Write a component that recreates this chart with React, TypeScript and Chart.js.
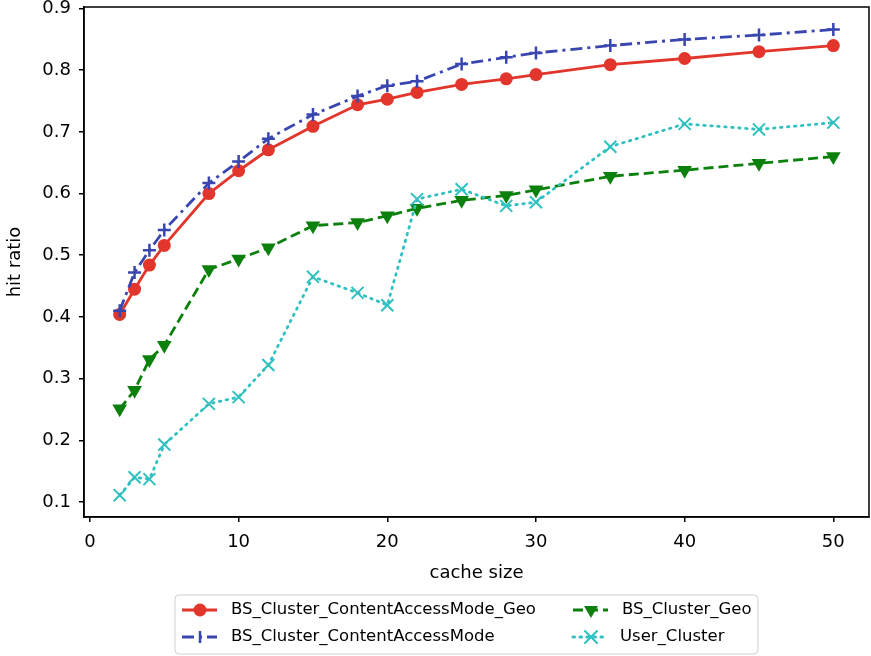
import React, { useEffect, useRef } from "react";
import { Chart, registerables } from "chart.js";
Chart.register(...registerables);

const cacheSizes = [2, 3, 4, 5, 8, 10, 12, 15, 18, 20, 22, 25, 28, 30, 35, 40, 45, 50];
const bsContentGeo = [0.404, 0.445, 0.484, 0.516, 0.6, 0.637, 0.671, 0.709, 0.744, 0.753, 0.764, 0.777, 0.786, 0.793, 0.809, 0.819, 0.830, 0.840];
const bsContent = [0.41, 0.472, 0.508, 0.541, 0.617, 0.652, 0.689, 0.728, 0.758, 0.775, 0.782, 0.810, 0.821, 0.828, 0.840, 0.850, 0.857, 0.866];
const bsGeo = [0.251, 0.281, 0.331, 0.354, 0.477, 0.494, 0.512, 0.548, 0.553, 0.564, 0.576, 0.589, 0.597, 0.606, 0.628, 0.638, 0.649, 0.660];
const userCluster = [0.111, 0.140, 0.137, 0.193, 0.259, 0.270, 0.322, 0.465, 0.439, 0.419, 0.591, 0.607, 0.580, 0.586, 0.676, 0.713, 0.704, 0.715];

const seriesNames = ["BS_Cluster_ContentAccessMode_Geo", "BS_Cluster_ContentAccessMode", "BS_Cluster_Geo", "User_Cluster"];
const seriesColors = ["#e2352b", "#3a46b0", "#0c800c", "#2fc0c0"];
const xTicks = [0, 10, 20, 30, 40, 50];
const yTicks = [0.1, 0.2, 0.3, 0.4, 0.5, 0.6, 0.7, 0.8, 0.9];
const xLabel = "cache size";
const yLabel = "hit ratio";

const FONT = "'DejaVu Sans', sans-serif";

function drawMarker(ctx: CanvasRenderingContext2D, kind: number, x: number, y: number, color: string) {
  ctx.save();
  ctx.fillStyle = color;
  ctx.strokeStyle = color;
  ctx.setLineDash([]);
  if (kind === 0) {
    ctx.beginPath();
    ctx.arc(x, y, 6.5, 0, Math.PI * 2);
    ctx.fill();
  } else if (kind === 1) {
    ctx.lineWidth = 2.5;
    ctx.beginPath();
    ctx.moveTo(x, y - 6);
    ctx.lineTo(x, y + 6);
    ctx.stroke();
  } else if (kind === 2) {
    const r = 8;
    ctx.beginPath();
    ctx.moveTo(x - r * 0.87, y - r * 0.5);
    ctx.lineTo(x + r * 0.87, y - r * 0.5);
    ctx.lineTo(x, y + r);
    ctx.closePath();
    ctx.fill();
  } else {
    const r = 6;
    ctx.lineWidth = 2;
    ctx.beginPath();
    ctx.moveTo(x - r, y - r);
    ctx.lineTo(x + r, y + r);
    ctx.moveTo(x - r, y + r);
    ctx.lineTo(x + r, y - r);
    ctx.stroke();
  }
  ctx.restore();
}

const dashes: number[][] = [[], [12, 5, 3, 5], [10, 5], [1.5, 5.5]];

const noPad = () => ({ left: 0, right: 0, top: 0, bottom: 0 });

const framePlugin = {
  id: "frame",
  afterDatasetsDraw(chart: any) {
    const { ctx, chartArea } = chart;
    ctx.save();
    ctx.strokeStyle = "#000";
    ctx.lineWidth = 1.5;
    ctx.strokeRect(chartArea.left, chartArea.top, chartArea.right - chartArea.left, chartArea.bottom - chartArea.top);
    ctx.restore();
  },
};

const legendPlugin = {
  id: "mplLegend",
  afterDraw(chart: any) {
    const ctx: CanvasRenderingContext2D = chart.ctx;
    ctx.save();
    const bx = 175, by = 595, bw = 583, bh = 59, r = 4;
    ctx.beginPath();
    ctx.moveTo(bx + r, by);
    ctx.lineTo(bx + bw - r, by);
    ctx.quadraticCurveTo(bx + bw, by, bx + bw, by + r);
    ctx.lineTo(bx + bw, by + bh - r);
    ctx.quadraticCurveTo(bx + bw, by + bh, bx + bw - r, by + bh);
    ctx.lineTo(bx + r, by + bh);
    ctx.quadraticCurveTo(bx, by + bh, bx, by + bh - r);
    ctx.lineTo(bx, by + r);
    ctx.quadraticCurveTo(bx, by, bx + r, by);
    ctx.closePath();
    ctx.fillStyle = "rgba(255,255,255,0.9)";
    ctx.fill();
    ctx.strokeStyle = "#d0d0d0";
    ctx.lineWidth = 1;
    ctx.stroke();

    const pos = [
      { lx: 182, tx: 231, y: 610 },
      { lx: 182, tx: 231, y: 637 },
      { lx: 573, tx: 622, y: 610 },
      { lx: 573, tx: 620, y: 637 },
    ];
    ctx.font = `16.5px ${FONT}`;
    ctx.textBaseline = "middle";
    ctx.textAlign = "left";
    for (let i = 0; i < 4; i++) {
      const p = pos[i];
      const c = seriesColors[i];
      ctx.strokeStyle = c;
      ctx.lineWidth = 3;
      ctx.lineCap = i === 3 ? "round" : "butt";
      ctx.setLineDash(dashes[i]);
      ctx.beginPath();
      ctx.moveTo(p.lx, p.y);
      ctx.lineTo(p.lx + 35, p.y);
      ctx.stroke();
      drawMarker(ctx, i, p.lx + 18, p.y, c);
      ctx.fillStyle = "#000";
      ctx.fillText(seriesNames[i], p.tx, p.y);
    }
    ctx.restore();
  },
};

export default function App() {
  const ref = useRef<HTMLCanvasElement>(null);
  useEffect(() => {
    if (!ref.current) return;
    Chart.defaults.font.family = FONT;
    const all = [bsContentGeo, bsContent, bsGeo, userCluster];
    const styles: any[] = [
      { pointStyle: "circle", pointRadius: 6.5, pointBorderWidth: 0, order: 4 },
      { pointStyle: "cross", pointRadius: 6.5, pointBorderWidth: 2.5, order: 3 },
      { pointStyle: "triangle", pointRadius: 8.5, pointBorderWidth: 0, pointRotation: 180, order: 2 },
      { pointStyle: "crossRot", pointRadius: 8.5, pointBorderWidth: 2, order: 1, borderCapStyle: "round" },
    ];
    const datasets = all.map((vals, i) => ({
      label: seriesNames[i],
      data: cacheSizes.map((x, j) => ({ x, y: vals[j] })),
      borderColor: seriesColors[i],
      backgroundColor: seriesColors[i],
      pointBackgroundColor: seriesColors[i],
      pointBorderColor: seriesColors[i],
      borderWidth: 2.8,
      borderDash: dashes[i],
      tension: 0,
      ...styles[i],
    }));
    const chart = new Chart(ref.current, {
      type: "line",
      data: { datasets },
      plugins: [framePlugin, legendPlugin],
      options: {
        animation: false,
        responsive: false,
        layout: { autoPadding: false, padding: { left: 0, right: 2, top: 7, bottom: 69 } },
        plugins: { legend: { display: false }, tooltip: { enabled: false } },
        scales: {
          x: {
            type: "linear",
            min: -0.4,
            max: 52.4,
            afterBuildTicks: (s: any) => { s.ticks = xTicks.map((v) => ({ value: v })); },
            afterFit: (s: any) => { s.height = 70; s.paddingLeft = 0; s.paddingRight = 0; s.getPadding = noPad; },
            ticks: { color: "#000", font: { size: 18 }, padding: 10, maxRotation: 0, callback: (v: any) => String(v) },
            grid: { drawOnChartArea: false, drawTicks: true, tickLength: 5, color: "#000", lineWidth: 1.5 },
            border: { display: true, color: "#000", width: 1.5 },
            title: { display: true, text: xLabel, color: "#000", font: { size: 18 }, padding: { top: 2, bottom: 3 } },
          },
          y: {
            type: "linear",
            min: 0.0756,
            max: 0.9025,
            afterBuildTicks: (s: any) => { s.ticks = yTicks.map((v) => ({ value: v })); },
            afterFit: (s: any) => { s.width = 84; s.paddingTop = 0; s.paddingBottom = 0; s.getPadding = noPad; },
            ticks: { color: "#000", font: { size: 18 }, padding: 8, callback: (v: any) => Number(v).toFixed(1) },
            grid: { drawOnChartArea: false, drawTicks: true, tickLength: 5, color: "#000", lineWidth: 1.5 },
            border: { display: true, color: "#000", width: 1.5 },
            title: { display: true, text: yLabel, color: "#000", font: { size: 18 }, padding: { top: 5, bottom: 0 } },
          },
        },
      },
    } as any);
    return () => chart.destroy();
  }, []);
  return (
    <div style={{ position: "absolute", left: 0, top: 0, width: 871, height: 656, background: "#fff" }}>
      <canvas ref={ref} width={871} height={656} style={{ width: 871, height: 656 }} />
    </div>
  );
}
